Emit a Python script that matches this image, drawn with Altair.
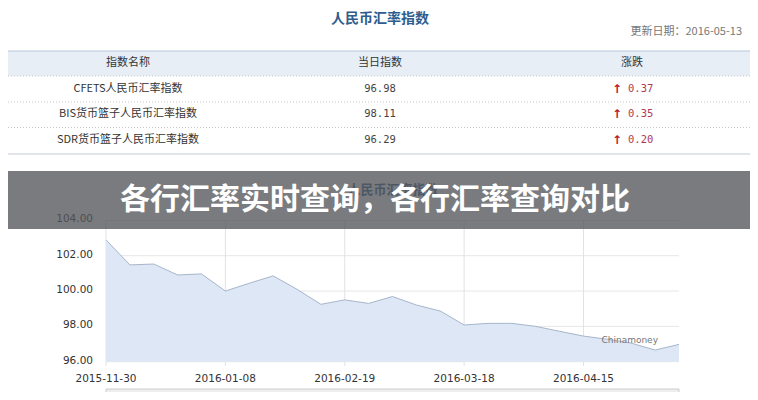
import altair as alt
import pandas as pd

# ---------------- data ----------------
headers = ["指数名称", "当日指数", "涨跌"]
names = ["CFETS人民币汇率指数", "BIS货币篮子人民币汇率指数", "SDR货币篮子人民币汇率指数"]
index_values = [96.98, 98.11, 96.29]
changes = [0.37, 0.35, 0.20]

series = [102.9, 101.48, 101.53, 100.91, 100.97, 100.0, 100.44, 100.86, 100.1,
          99.25, 99.5, 99.3, 99.69, 99.21, 98.87, 98.08, 98.17, 98.17, 98.0,
          97.72, 97.45, 97.27, 97.05, 96.66, 96.98]
tick_pos = [0, 5, 10, 15, 20]
tick_labels = ["2015-11-30", "2016-01-08", "2016-02-19", "2016-03-18", "2016-04-15"]
y_ticks = [96, 98, 100, 102, 104]

title_text = "人民币汇率指数"
update_text = "更新日期：2016-05-13"
banner_text = "各行汇率实时查询，各行汇率查询对比"
credit_text = "Chinamoney"

CJK = "Noto Sans CJK SC"

# ---------------- scales ----------------
COL = alt.Scale(type="point", domain=["name", "value", "change"], range=[120, 624], padding=0)
ROW = alt.Scale(type="point", domain=["h", "r1", "r2", "r3"], range=[55, 132], padding=0)
XS = alt.Scale(domain=[0, 24], range=[98, 671], nice=False, zero=False)
YS = alt.Scale(domain=[96, 104], range=[353.7, 212.4], nice=False, zero=False)

one = alt.Data(values=[{"k": 0}])

def box(x, x2, y, y2, **kw):
    return alt.Chart(one).mark_rect(**kw).encode(
        x=alt.value(x), x2=alt.value(x2), y=alt.value(y), y2=alt.value(y2))

def hline(y, x=0, x2=742, **kw):
    return alt.Chart(one).mark_rule(**kw).encode(
        x=alt.value(x), x2=alt.value(x2), y=alt.value(y))

def label(text, x, y, **kw):
    return alt.Chart(alt.Data(values=[{"t": text}])).mark_text(**kw).encode(
        x=alt.value(x), y=alt.value(y), text="t:N")

# ---------------- table ----------------
header_df = pd.DataFrame({"col": ["name", "value", "change"], "row": "h", "t": headers})
rows = ["r1", "r2", "r3"]
name_df = pd.DataFrame({"col": "name", "row": rows, "t": names})
val_df = pd.DataFrame({"col": "value", "row": rows, "v": index_values})
chg_df = pd.DataFrame({"col": "change", "row": rows, "v": changes, "a": ["↑"] * 3})

def cells(df, text, **kw):
    return alt.Chart(df).mark_text(baseline="middle", **kw).encode(
        x=alt.X("col:N", scale=COL, axis=None),
        y=alt.Y("row:N", scale=ROW, axis=None),
        text=text)

layers = [
    label(title_text, 372, 11, font=CJK, fontSize=14, fontWeight="bold", color="#2e5d8e",
          baseline="middle"),
    label(update_text, 734, 24, font=CJK, fontSize=11, color="#777777", align="right",
          baseline="middle"),
    box(0, 742, 43, 68, fill="#e8eef6"),
    hline(43, color="#b7c7d8", strokeWidth=1),
    hline(68, color="#c8c8c8", strokeDash=[1, 2]),
    hline(94, color="#c8c8c8", strokeDash=[1, 2]),
    hline(119.5, color="#c8c8c8", strokeDash=[1, 2]),
    hline(146, color="#c4ccd6", strokeWidth=1),
    cells(header_df, "t:N", font=CJK, fontSize=11, color="#333333"),
    cells(name_df, "t:N", font=CJK, fontSize=11, color="#333333"),
    cells(val_df, alt.Text("v:Q", format=".2f"), font="DejaVu Sans Mono", fontSize=10.5, color="#444444"),
    cells(chg_df, "a:N", font="DejaVu Sans", fontSize=12, fontWeight="bold", color="#c0182e", dx=-15),
    cells(chg_df, alt.Text("v:Q", format=".2f"), font="DejaVu Sans Mono", fontSize=10.5,
          color="#b03a55", align="left", dx=-4),
]

# ---------------- area chart ----------------
area_df = pd.DataFrame({"i": list(range(len(series))), "v": series})
tick_df = pd.DataFrame({"i": tick_pos, "lab": tick_labels})
ytick_df = pd.DataFrame({"v": y_ticks})

layers += [
    label(title_text, 385, 182, font=CJK, fontSize=13, fontWeight="bold", color="#2e5d8e",
          baseline="middle"),
    # horizontal grid
    alt.Chart(ytick_df).mark_rule(color="#e6e6e6", strokeWidth=1).encode(
        y=alt.Y("v:Q", scale=YS, axis=None),
        x=alt.X(datum=0, scale=XS, axis=None), x2=alt.X2(datum=24)),
    # vertical grid
    alt.Chart(tick_df).mark_rule(color="#e2e2e2", strokeWidth=1).encode(
        x=alt.X("i:Q", scale=XS, axis=None),
        y=alt.Y(datum=104, scale=YS, axis=None), y2=alt.value(358)),
    # area
    alt.Chart(area_df).mark_area(color="#dde7f5", opacity=1,
                                 line={"color": "#a7b6cb", "strokeWidth": 1}).encode(
        x=alt.X("i:Q", scale=XS, axis=None),
        y=alt.Y("v:Q", scale=YS, axis=None),
        y2=alt.Y2(datum=96)),
    # axis labels
    alt.Chart(tick_df).mark_text(font="DejaVu Sans", fontSize=10.5, color="#333333",
                                 baseline="middle").encode(
        x=alt.X("i:Q", scale=XS, axis=None), y=alt.value(371), text="lab:N"),
    alt.Chart(ytick_df).mark_text(font="DejaVu Sans", fontSize=10.5, color="#333333",
                                  align="right", baseline="middle", dy=-1).encode(
        y=alt.Y("v:Q", scale=YS, axis=None), x=alt.value(85),
        text=alt.Text("v:Q", format=".2f")),
    label(credit_text, 650, 332, font="DejaVu Sans", fontSize=9, color="#777777", align="right"),
    # navigator strip
    alt.Chart(alt.Data(values=[{"a": 0, "b": 24}])).mark_rect(
        fill="#eeeeee", stroke="#cccccc", strokeWidth=1).encode(
        x=alt.X("a:Q", scale=XS, axis=None), x2="b:Q",
        y=alt.value(381), y2=alt.value(392)),
    # banner
    box(0, 742, 163, 221, fill="#55565a", opacity=0.78),
    label(banner_text, 367, 192, font=CJK, fontSize=30, fontWeight="bold", color="#ffffff",
          baseline="middle"),
]

chart = alt.layer(*layers).resolve_scale(x="independent", y="independent").properties(
    width=742, height=384, padding=0,
    autosize=alt.AutoSizeParams(type="none"),
    background="#ffffff",
).configure_view(stroke=None)

chart.save("out.html", embed_options={"renderer": "svg", "actions": False})
